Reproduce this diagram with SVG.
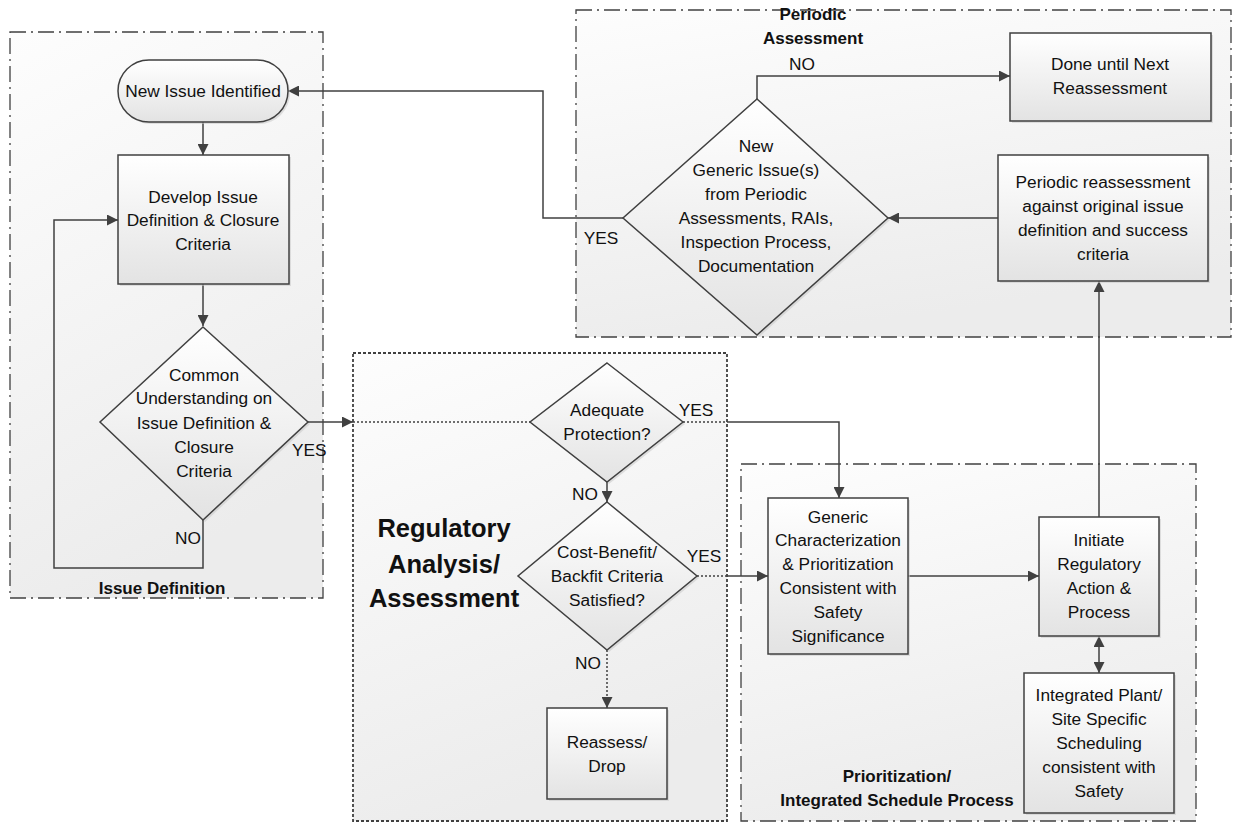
<svg xmlns="http://www.w3.org/2000/svg" width="1233" height="823" viewBox="0 0 1233 823">
<defs>
<linearGradient id="gCont" x1="0" y1="0" x2="0.3" y2="1">
<stop offset="0" stop-color="#fdfdfd"/>
<stop offset="1" stop-color="#ececec"/>
</linearGradient>
<linearGradient id="gNode" x1="0" y1="0" x2="0" y2="1">
<stop offset="0" stop-color="#ffffff"/>
<stop offset="1" stop-color="#e3e3e3"/>
</linearGradient>
<marker id="arr" viewBox="0 0 10 10" refX="10" refY="5" markerWidth="14" markerHeight="11" markerUnits="userSpaceOnUse" orient="auto-start-reverse">
<path d="M0,0 L10,5 L0,10 z" fill="#404040"/>
</marker>
<style>
.cont{fill:url(#gCont);stroke:#404040;stroke-width:1.3;stroke-dasharray:16 5 2 5}
.contDot{fill:url(#gCont);stroke:#404040;stroke-width:1.8;stroke-dasharray:3 2}
.node{fill:url(#gNode);stroke:#404040;stroke-width:1.5}
.shadow{fill:#c8c8c8;opacity:0.55}
.ln{fill:none;stroke:#404040;stroke-width:1.5}
.dot{fill:none;stroke:#404040;stroke-width:1.5;stroke-dasharray:2 2}
text{font-family:"Liberation Sans",Arial,sans-serif;font-size:17.3px;fill:#111111;text-anchor:middle}
.b{font-weight:bold;font-size:17px}
.big{font-weight:bold;font-size:25.5px}
.st{text-anchor:start}
</style>
</defs>

<g id="containers">
<rect id="c-issue" class="cont" x="10" y="32" width="313" height="566"/>
<rect id="c-periodic" class="cont" x="576" y="10" width="655" height="327"/>
<rect id="c-regulatory" class="contDot" x="353" y="353" width="374" height="468"/>
<rect id="c-prior" class="cont" x="741" y="464" width="455" height="357"/>
</g>

<g id="container-labels">
<text class="b" x="162" y="594">Issue Definition</text>
<text class="b" x="813" y="20">Periodic</text>
<text class="b" x="813" y="44">Assessment</text>
<text class="big" x="444" y="537">Regulatory</text>
<text class="big" x="444" y="573">Analysis/</text>
<text class="big" x="444" y="607">Assessment</text>
<text class="b" x="897" y="782">Prioritization/</text>
<text class="b" x="897" y="806">Integrated Schedule Process</text>
</g>

<g id="connectors">
<path class="ln" d="M203,122 V155" marker-end="url(#arr)"/>
<path class="ln" d="M203,284 V326" marker-end="url(#arr)"/>
<path class="ln" d="M203,520 V568 H54 V220 H118" marker-end="url(#arr)"/>
<path class="ln" d="M308,422 H353" marker-end="url(#arr)"/>
<path class="dot" d="M353,422 H530"/>
<path class="dot" d="M683,422 H727"/>
<path class="ln" d="M727,422 H839 V498" marker-end="url(#arr)"/>
<path class="ln" d="M607,482 V502" marker-end="url(#arr)"/>
<path class="dot" d="M697,576 H727"/>
<path class="ln" d="M727,576 H768" marker-end="url(#arr)"/>
<path class="dot" d="M607,650 V708" marker-end="url(#arr)"/>
<path class="ln" d="M908,576 H1039" marker-end="url(#arr)"/>
<path class="ln" d="M1099,517 V281" marker-end="url(#arr)"/>
<path class="ln" d="M1099,636 V673" marker-start="url(#arr)" marker-end="url(#arr)"/>
<path class="ln" d="M998,218 H888" marker-end="url(#arr)"/>
<path class="ln" d="M757,99 V76 H1010" marker-end="url(#arr)"/>
<path class="ln" d="M623,218 H543 V91 H288" marker-end="url(#arr)"/>
<text class="st" x="292" y="456">YES</text>
<text x="188" y="544">NO</text>
<text x="802" y="70">NO</text>
<text x="601" y="244">YES</text>
<text x="696" y="416">YES</text>
<text x="585" y="500">NO</text>
<text x="704" y="562">YES</text>
<text x="588" y="669">NO</text>
</g>

<g id="n-new-issue">
<rect class="shadow" x="120" y="62" width="170" height="62" rx="31"/>
<rect class="node" x="118" y="60" width="170" height="62" rx="31"/>
<text x="203" y="97">New Issue Identified</text>
</g>

<g id="n-develop">
<rect class="shadow" x="120" y="157" width="171" height="129"/>
<rect class="node" x="118" y="155" width="171" height="129"/>
<text x="203" y="203">Develop Issue</text>
<text x="203" y="226">Definition &amp; Closure</text>
<text x="203" y="250">Criteria</text>
</g>

<g id="n-common">
<polygon class="shadow" points="205,329 310,424 205,522 102,424"/>
<polygon class="node" points="203,327 308,422 203,520 100,422"/>
<text x="204" y="381">Common</text>
<text x="204" y="404">Understanding on</text>
<text x="204" y="429">Issue Definition &amp;</text>
<text x="204" y="453">Closure</text>
<text x="204" y="477">Criteria</text>
</g>

<g id="n-adequate">
<polygon class="shadow" points="609,365 685,424 609,484 532,424"/>
<polygon class="node" points="607,363 683,422 607,482 530,422"/>
<text x="607" y="416">Adequate</text>
<text x="607" y="440">Protection?</text>
</g>

<g id="n-costbenefit">
<polygon class="shadow" points="609,504 699,578 609,652 520,578"/>
<polygon class="node" points="607,502 697,576 607,650 518,576"/>
<text x="607" y="558">Cost-Benefit/</text>
<text x="607" y="582">Backfit Criteria</text>
<text x="607" y="606">Satisfied?</text>
</g>

<g id="n-reassess">
<rect class="shadow" x="549" y="710" width="120" height="91"/>
<rect class="node" x="547" y="708" width="120" height="91"/>
<text x="607" y="748">Reassess/</text>
<text x="607" y="772">Drop</text>
</g>

<g id="n-generic">
<rect class="shadow" x="770" y="500" width="140" height="156"/>
<rect class="node" x="768" y="498" width="140" height="156"/>
<text x="838" y="523">Generic</text>
<text x="838" y="546">Characterization</text>
<text x="838" y="570">&amp; Prioritization</text>
<text x="838" y="594">Consistent with</text>
<text x="838" y="618">Safety</text>
<text x="838" y="642">Significance</text>
</g>

<g id="n-initiate">
<rect class="shadow" x="1041" y="519" width="120" height="119"/>
<rect class="node" x="1039" y="517" width="120" height="119"/>
<text x="1099" y="546">Initiate</text>
<text x="1099" y="570">Regulatory</text>
<text x="1099" y="594">Action &amp;</text>
<text x="1099" y="618">Process</text>
</g>

<g id="n-integrated">
<rect class="shadow" x="1026" y="675" width="150" height="140"/>
<rect class="node" x="1024" y="673" width="150" height="140"/>
<text x="1099" y="701">Integrated Plant/</text>
<text x="1099" y="725">Site Specific</text>
<text x="1099" y="749">Scheduling</text>
<text x="1099" y="773">consistent with</text>
<text x="1099" y="797">Safety</text>
</g>

<g id="n-newgeneric">
<polygon class="shadow" points="759,101 890,220 759,337 625,220"/>
<polygon class="node" points="757,99 888,218 757,335 623,218"/>
<text x="756" y="152">New</text>
<text x="756" y="176">Generic Issue(s)</text>
<text x="756" y="200">from Periodic</text>
<text x="756" y="224">Assessments, RAIs,</text>
<text x="756" y="248">Inspection Process,</text>
<text x="756" y="272">Documentation</text>
</g>

<g id="n-done">
<rect class="shadow" x="1012" y="35" width="201" height="88"/>
<rect class="node" x="1010" y="33" width="201" height="88"/>
<text x="1110" y="70">Done until Next</text>
<text x="1110" y="94">Reassessment</text>
</g>

<g id="n-periodic-reassess">
<rect class="shadow" x="1000" y="157" width="210" height="126"/>
<rect class="node" x="998" y="155" width="210" height="126"/>
<text x="1103" y="188">Periodic reassessment</text>
<text x="1103" y="212">against original issue</text>
<text x="1103" y="236">definition and success</text>
<text x="1103" y="260">criteria</text>
</g>
</svg>
